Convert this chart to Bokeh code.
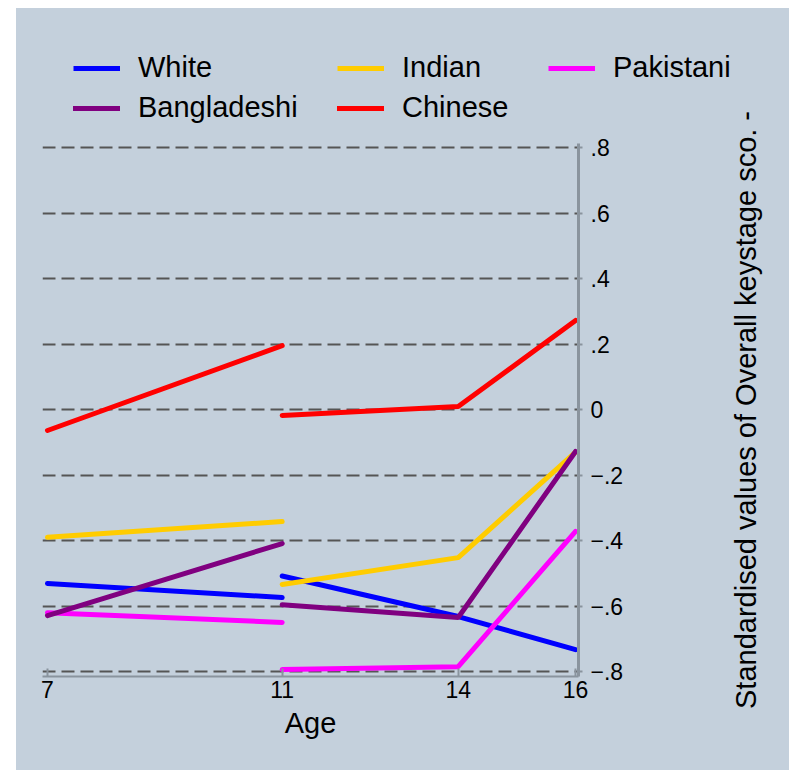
from bokeh.plotting import figure
from bokeh.models import FixedTicker, Legend, LegendItem, Range1d, Spacer
from bokeh.layouts import row, column
from bokeh.embed import file_html
from bokeh.resources import INLINE

# ---- data ----
age_a = [7, 11]
age_b = [11, 14, 16]

white_a = [-0.531, -0.574]
white_b = [-0.508, -0.632, -0.733]
indian_a = [-0.390, -0.342]
indian_b = [-0.534, -0.452, -0.130]
pakistani_a = [-0.620, -0.650]
pakistani_b = [-0.794, -0.785, -0.372]
bangladeshi_a = [-0.629, -0.409]
bangladeshi_b = [-0.596, -0.635, -0.128]
chinese_a = [-0.064, 0.195]
chinese_b = [-0.018, 0.009, 0.272]

x_ticks = [7, 11, 14, 16]
y_ticks = [-0.8, -0.6, -0.4, -0.2, 0.0, 0.2, 0.4, 0.6, 0.8]
y_tick_labels = ["\u2212.8", "\u2212.6", "\u2212.4", "\u2212.2", "0", ".2", ".4", ".6", ".8"]
y_title = "Standardised values of Overall keystage sco. -"
x_title = "Age"

series = [
    ("White", white_a, white_b, "#0000ff"),
    ("Indian", indian_a, indian_b, "#ffcc00"),
    ("Pakistani", pakistani_a, pakistani_b, "#ff00ff"),
    ("Bangladeshi", bangladeshi_a, bangladeshi_b, "#800080"),
    ("Chinese", chinese_a, chinese_b, "#ff0000"),
]

BG = "#c4d0dc"
AX = "#8a949e"
FONT = "Liberation Sans"
Y_LO, Y_HI = -0.815, 0.812
LW = 5


def style(fig):
    fig.background_fill_color = BG
    fig.border_fill_color = BG
    fig.outline_line_color = None
    fig.frame_align = False


def legend_box(fig, items, loc):
    leg = Legend(items=items, location=loc, orientation="vertical", spacing=8,
                 padding=0, margin=0, glyph_width=47, glyph_height=32, label_height=32,
                 label_standoff=18, label_text_font=FONT, label_text_font_size="29px",
                 label_text_color="black", background_fill_alpha=0, border_line_alpha=0)
    fig.add_layout(leg)


# ---- legend strip (first legend row) ----
strip = figure(width=773, height=83, x_range=Range1d(0, 1), y_range=Range1d(0, 1),
               output_backend="svg", toolbar_location=None,
               x_axis_type=None, y_axis_type=None,
               min_border_left=0, min_border_right=0, min_border_top=0, min_border_bottom=0)
style(strip)
strip.grid.visible = False
strip_r = {}
for name, va, vb, col in series[:3]:
    # same series drawn outside the strip's visible range; only their legend glyphs show
    strip_r[name] = strip.line(age_a, va, line_color=col, line_width=LW)
legend_box(strip, [LegendItem(label="White", renderers=[strip_r["White"]])], (57, 7))
legend_box(strip, [LegendItem(label="Indian", renderers=[strip_r["Indian"]])], (321, 7))
legend_box(strip, [LegendItem(label="Pakistani", renderers=[strip_r["Pakistani"]])], (532, 7))

# ---- main plot ----
p = figure(width=700, height=679,
           x_range=Range1d(6.915, 16.05), y_range=Range1d(Y_LO, 0.971),
           output_backend="svg", toolbar_location=None,
           y_axis_location="right",
           min_border_left=26, min_border_right=138,
           min_border_top=0, min_border_bottom=94)
style(p)

p.xgrid.grid_line_color = None
p.ygrid.grid_line_color = "#555555"
p.ygrid.grid_line_width = 2
p.ygrid.grid_line_dash = "13 6"

xa = p.xaxis[0]
xa.ticker = FixedTicker(ticks=x_ticks)
xa.axis_label = x_title
xa.axis_label_text_font = FONT
xa.axis_label_text_font_size = "29px"
xa.axis_label_text_font_style = "normal"
xa.axis_label_text_color = "black"
xa.axis_label_standoff = 6
xa.major_label_text_font = FONT
xa.major_label_text_font_size = "23px"
xa.major_label_text_color = "black"
xa.major_label_standoff = 4
xa.axis_line_color = AX
xa.axis_line_width = 2
xa.major_tick_line_color = AX
xa.major_tick_line_width = 2
xa.major_tick_in = 8
xa.major_tick_out = 0
xa.minor_tick_line_color = None

ya = p.yaxis[0]
ya.ticker = FixedTicker(ticks=y_ticks)
ya.bounds = (Y_LO, Y_HI)
ya.major_label_overrides = {v: s for v, s in zip(y_ticks, y_tick_labels)}
ya.major_label_text_font = FONT
ya.major_label_text_font_size = "23px"
ya.major_label_text_color = "black"
ya.major_label_standoff = 8
ya.axis_line_color = AX
ya.axis_line_width = 3
ya.major_tick_line_color = AX
ya.major_tick_line_width = 2
ya.major_tick_in = 0
ya.major_tick_out = 4
ya.minor_tick_line_color = None

renderers = {}
for name, va, vb, col in series:
    r1 = p.line(age_a, va, line_color=col, line_width=LW, line_cap="round")
    p.line(age_b, vb, line_color=col, line_width=LW, line_cap="round")
    renderers[name] = r1

legend_box(p, [LegendItem(label="Bangladeshi", renderers=[renderers["Bangladeshi"]])], (31, 552))
legend_box(p, [LegendItem(label="Chinese", renderers=[renderers["Chinese"]])], (295, 552))

# ---- y-axis title column (reads bottom to top) ----
tfig = figure(width=73, height=679, x_range=Range1d(0, 1), y_range=Range1d(Y_LO, Y_HI),
              output_backend="svg", toolbar_location=None, x_axis_type=None,
              min_border_left=54, min_border_right=0, min_border_top=52, min_border_bottom=94)
style(tfig)
tfig.grid.visible = False
ta = tfig.yaxis[0]
ta.ticker = FixedTicker(ticks=[])
ta.axis_line_color = None
ta.major_tick_line_color = None
ta.minor_tick_line_color = None
ta.major_label_text_alpha = 0
ta.axis_label = y_title
ta.axis_label_text_font = FONT
ta.axis_label_text_font_size = "29px"
ta.axis_label_text_font_style = "normal"
ta.axis_label_text_color = "black"
ta.axis_label_standoff = 9

chart = column(strip, row(p, tfig, styles={"background-color": BG}),
               styles={"background-color": BG})
layout = column(Spacer(width=789, height=8),
                row(Spacer(width=16, height=762), chart))
open("out.html", "w").write(file_html(layout, INLINE))
